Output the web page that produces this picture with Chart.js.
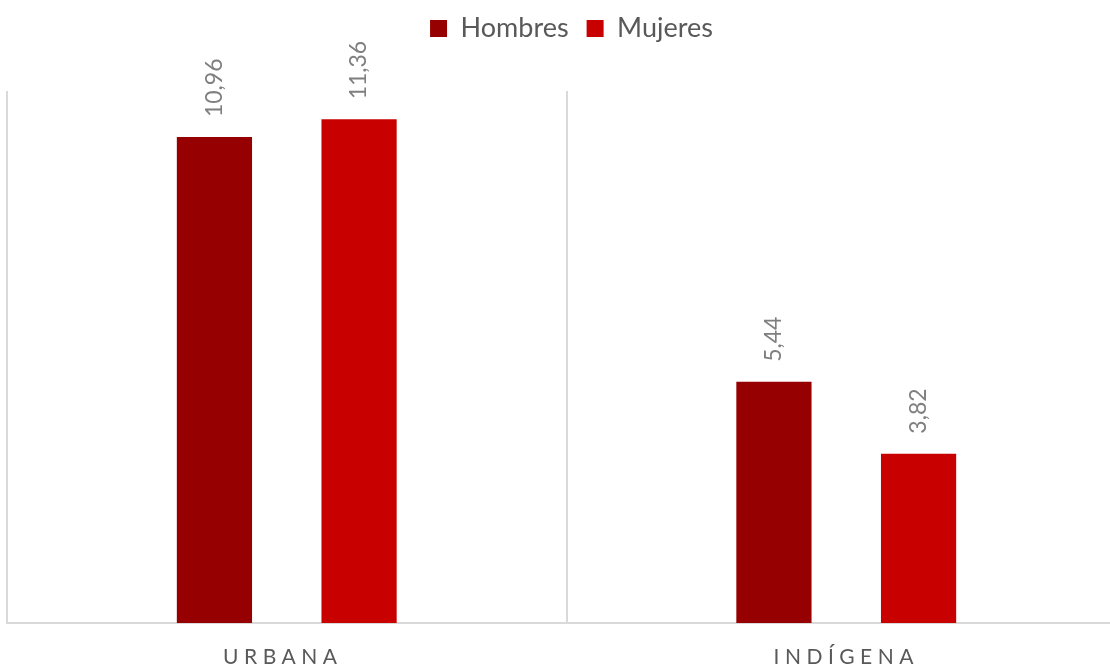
<!DOCTYPE html>
<html>
<head>
<meta charset="utf-8">
<script src="https://cdn.jsdelivr.net/npm/chart.js@4"></script>
<style>
  body { margin: 0; overflow: hidden; background: #fff; }
</style>
</head>
<body>
<canvas id="grafico" width="1130" height="667" style="width:1130px;height:667px"></canvas>
<script>
// Población por área y sexo
const categorias = ['URBANA', 'INDÍGENA'];
const hombres = [10.96, 5.44];
const mujeres = [11.36, 3.82];
const ejeMax = 12;

const fuente = 'Lato, "Noto Sans", sans-serif';

// Espacio extra entre la leyenda y el área del gráfico
const margenLeyenda = {
  id: 'margenLeyenda',
  beforeUpdate(chart) {
    const leyenda = chart.legend;
    if (!leyenda || leyenda._conMargen) return;
    const fit = leyenda.fit;
    leyenda.fit = function () {
      fit.call(this);
      this.height += 39;
    };
    leyenda._conMargen = true;
  },
  afterLayout(chart) {
    // leyenda un poco a la derecha del centro
    chart.legend.left += 5;
    chart.legend.right += 5;
  }
};

// Valores rotados encima de cada barra y nombres de categoría espaciados
const etiquetas = {
  id: 'etiquetas',
  afterDatasetsDraw(chart) {
    const ctx = chart.ctx;
    ctx.save();
    ctx.font = '23px ' + fuente;
    ctx.fillStyle = '#7f7f7f';
    ctx.textAlign = 'left';
    ctx.textBaseline = 'middle';
    chart.data.datasets.forEach((ds, i) => {
      chart.getDatasetMeta(i).data.forEach((bar, j) => {
        ctx.save();
        ctx.translate(bar.x, bar.y - 20);
        ctx.rotate(-Math.PI / 2);
        ctx.fillText(ds.data[j].toFixed(2).replace('.', ','), 0, 0);
        ctx.restore();
      });
    });
    const x = chart.scales.x;
    ctx.font = '21px ' + fuente;
    ctx.fillStyle = '#595959';
    ctx.textAlign = 'center';
    ctx.textBaseline = 'alphabetic';
    ctx.letterSpacing = '5.5px';
    categorias.forEach((c, j) => ctx.fillText(c, x.getPixelForValue(j) - (j === 0 ? 4 : 0), 664));
    ctx.restore();
  }
};

new Chart(document.getElementById('grafico').getContext('2d'), {
  type: 'bar',
  data: {
    labels: categorias,
    datasets: [
      { label: 'Hombres', data: hombres, backgroundColor: '#970000', borderWidth: 0,
        categoryPercentage: 0.517, barPercentage: 0.52 },
      { label: 'Mujeres', data: mujeres, backgroundColor: '#c80000', borderWidth: 0,
        categoryPercentage: 0.517, barPercentage: 0.52 }
    ]
  },
  options: {
    responsive: false,
    animation: false,
    layout: { padding: { left: 7, right: 4, top: -3, bottom: 44 } },
    plugins: {
      tooltip: { enabled: false },
      legend: {
        position: 'top',
        labels: {
          boxWidth: 17, boxHeight: 17, padding: 18,
          color: '#595959', font: { family: fuente, size: 27 }
        }
      }
    },
    scales: {
      x: {
        offset: true,
        grid: { offset: true, color: '#d9d9d9', lineWidth: 2, drawTicks: false },
        border: { color: '#d9d9d9', width: 2 },
        ticks: { display: false }
      },
      y: { display: false, min: 0, max: ejeMax }
    }
  },
  plugins: [margenLeyenda, etiquetas]
});
</script>
</body>
</html>
